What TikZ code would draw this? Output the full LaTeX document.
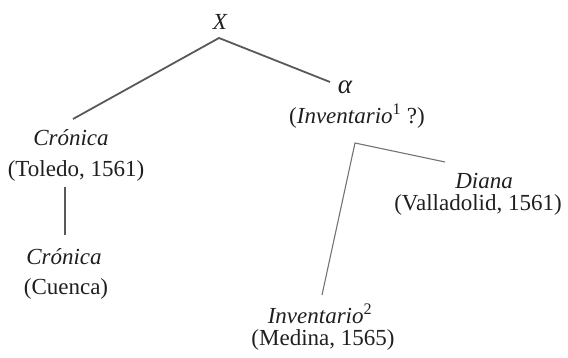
\documentclass[tikz,border=0pt]{standalone}
\usepackage{fontspec}
\setmainfont{Liberation Serif}
\begin{document}
\begin{tikzpicture}[x=1pt,y=1pt,
  txt/.style={inner sep=0pt, font=\fontsize{23}{26}\selectfont, text=black!88},
  it/.style={txt, font=\fontsize{23}{26}\selectfont\itshape},
  thick line/.style={draw=black!65, line width=1.8pt},
  thin line/.style={draw=black!55, line width=1.1pt}]
\useasboundingbox (0,0) rectangle (568,-358);
% nodes
\node[it]  (X)     at (220,-22)  {X};
\node[it, font=\fontsize{27}{30}\selectfont\itshape] (alpha) at (345,-87)  {α};
\node[txt] (inv1)  at (357,-116) {(\textit{Inventario}\textsuperscript{1} ?)};
\node[it]  (cron1) at (71,-138)  {Crónica};
\node[txt] (tol)   at (76,-171)  {(Toledo, 1561)};
\node[it]  (cron2) at (64,-257)  {Crónica};
\node[txt] (cue)   at (66,-289)  {(Cuenca)};
\node[it]  (diana) at (484,-181) {Diana};
\node[txt] (vall)  at (478,-205) {(Valladolid, 1561)};
\node[it]  (inv2)  at (320,-314) {Inventario\textsuperscript{\upshape 2}};
\node[txt] (med)   at (323,-340) {(Medina, 1565)};
% junction points
\coordinate (xtop)  at (219,-38);
\coordinate (xl)    at (73,-119);
\coordinate (xr)    at (330,-82);
\coordinate (fork)  at (355,-143);
\coordinate (fdi)   at (445,-162);
\coordinate (finv)  at (322,-295);
\coordinate (vtop)  at (65,-187);
\coordinate (vbot)  at (65,-235);
% connectors
\draw[thick line] (xl) -- (xtop) -- (xr);
\draw[thick line] (vtop) -- (vbot);
\draw[thin line] (finv) -- (fork) -- (fdi);
\end{tikzpicture}
\end{document}
